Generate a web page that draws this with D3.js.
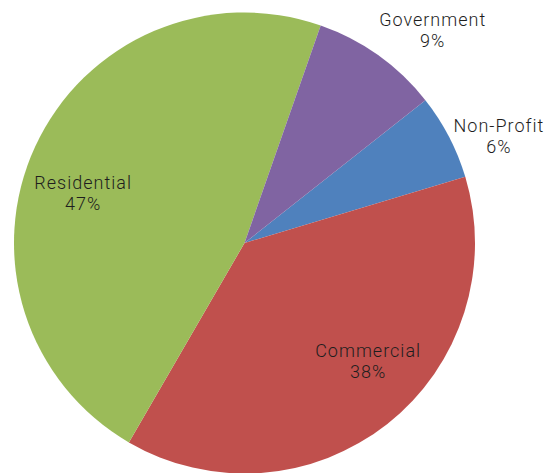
<!DOCTYPE html>
<html>
<head>
<meta charset="utf-8">
<script src="https://cdn.jsdelivr.net/npm/d3@7"></script>
<style>
  html, body { margin: 0; padding: 0; background: #fff; }
  svg { display: block; }
  .lbl { font-family: Roboto, "Liberation Sans", Arial, sans-serif; font-weight: 300; font-size: 18px; letter-spacing: 1px; fill: #1e1e1e; }
</style>
</head>
<body>
<svg id="chart" width="551" height="473"></svg>
<script>
// Share of spending by sector (percent)
const categories = ["Non-Profit", "Commercial", "Residential", "Government"];
const shares = [6, 38, 47, 9];
const colors = ["#4F81BD", "#C0504D", "#9BBB59", "#8064A2"];

const width = 551, height = 473;
const cx = 244.5, cy = 243, radius = 230.5;
const deg = Math.PI / 180;
const startDeg = 51.7;

const svg = d3.select("#chart");
const g = svg.append("g").attr("transform", `translate(${cx},${cy})`);

const pie = d3.pie()
  .sort(null)
  .value(d => d.value)
  .startAngle(startDeg * deg)
  .endAngle(startDeg * deg + 2 * Math.PI);

const data = categories.map((c, i) => ({ name: c, value: shares[i], color: colors[i] }));
const arcs = pie(data);

const arc = d3.arc().innerRadius(0).outerRadius(radius);

g.selectAll("path.slice")
  .data(arcs)
  .join("path")
  .attr("class", "slice")
  .attr("d", arc)
  .attr("fill", d => d.data.color);

// Label placement: distance from centre and a small angular nudge per slice
const labelLayout = {
  "Non-Profit":  { r: 276, shift: 4.7 },
  "Commercial":  { r: 171, shift: -8.0 },
  "Residential": { r: 169, shift: -7.4 },
  "Government":  { r: 284, shift: 6.0 }
};
const total = d3.sum(shares);
const fmt = v => Math.round(v / total * 100) + "%";

const labels = g.selectAll("text.lbl")
  .data(arcs)
  .join("text")
  .attr("class", "lbl")
  .attr("text-anchor", "middle")
  .attr("transform", d => {
    const L = labelLayout[d.data.name];
    const a = (d.startAngle + d.endAngle) / 2 + L.shift * deg;
    const x = Math.sin(a) * L.r;
    const y = -Math.cos(a) * L.r;
    return `translate(${x},${y})`;
  });

labels.append("tspan")
  .attr("x", 0)
  .attr("y", -4)
  .text(d => d.data.name);
labels.append("tspan")
  .attr("x", 0)
  .attr("y", 17)
  .text(d => fmt(d.data.value));
</script>
</body>
</html>
